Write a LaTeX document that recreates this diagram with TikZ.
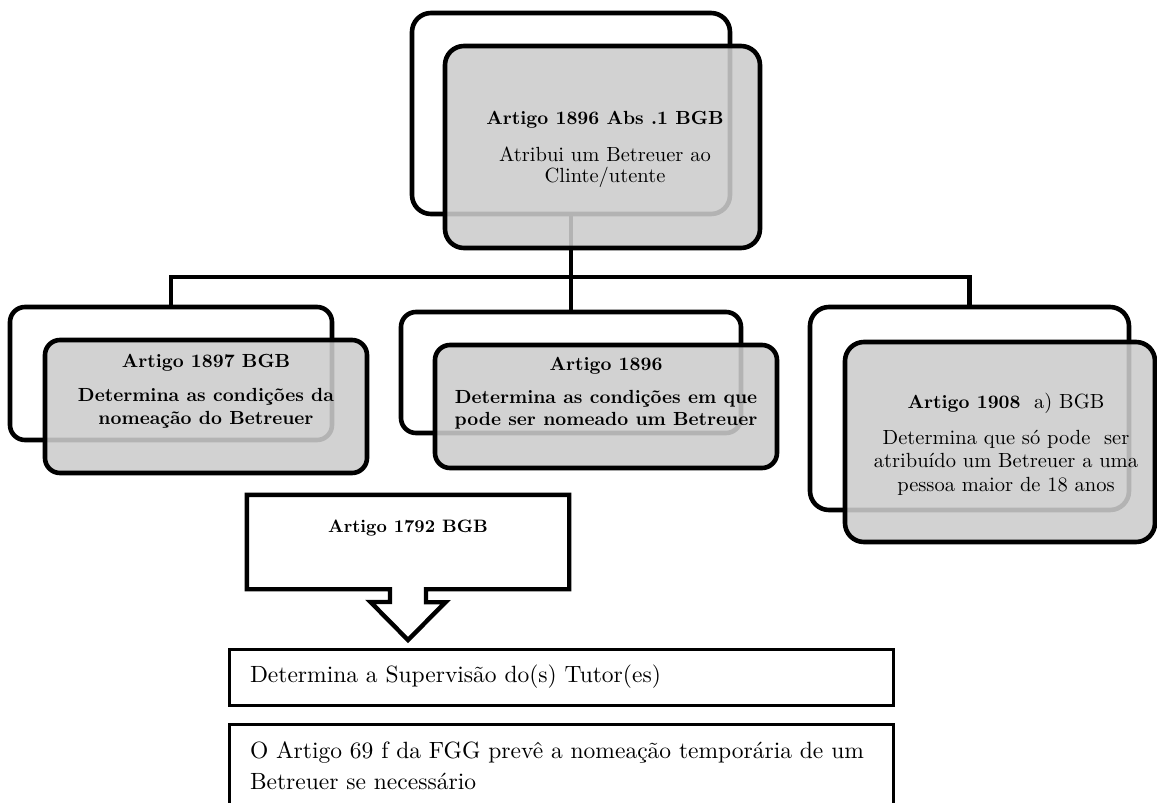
\documentclass[tikz,border=0pt]{standalone}
\usepackage{amsmath}
\usepackage{fontspec}
\setmainfont{lmroman10-regular.otf}[BoldFont=lmroman10-bold.otf]
\usepackage{tikz}
\definecolor{boxgray}{gray}{0.80}
\tikzset{
  backbox/.style={draw, line width=4.6pt, rounded corners=#1, inner sep=0pt},
  backbox/.default=15pt,
  frontbox/.style={draw, line width=4.6pt, rounded corners=#1, inner sep=0pt, fill=boxgray, fill opacity=0.88},
  frontbox/.default=15pt,
  link/.style={line width=4.8pt},
  callbox/.style={line width=4.4pt, line join=miter},
  plainbox/.style={draw, line width=3pt, inner sep=0pt},
}

\begin{document}
\begin{tikzpicture}[x=1pt,y=-1pt]
\useasboundingbox (0,0) rectangle (1157,803);

\node[backbox=19pt, minimum width=318, minimum height=201] (topback) at (571,113.5) {};
\node[backbox, minimum width=322, minimum height=133] (leftback) at (171,373.5) {};
\node[backbox, minimum width=340, minimum height=121] (midback) at (571,372.5) {};
\node[backbox=19pt, minimum width=319, minimum height=203] (rightback) at (969.5,408.5) {};
\coordinate (hub) at (571,277);

\draw[link] (topback.south) -- (hub);
\draw[link] (leftback.north) |- (hub) -| (rightback.north);
\draw[link] (hub) -- (midback.north);

\node[frontbox=19pt, minimum width=315, minimum height=202] (topfront) at (602.5,147) {};
\node[frontbox, minimum width=322, minimum height=133] (leftfront) at (206,406.5) {};
\node[frontbox, minimum width=342, minimum height=123] (midfront) at (606,406.5) {};
\node[frontbox=19pt, minimum width=310, minimum height=200] (rightfront) at (1000,442) {};

\node[align=center, font=\fontsize{20.5}{21}\selectfont] (toptxt) at (605,149.5)
  {{\bfseries\fontsize{19}{21}\selectfont Artigo 1896 Abs .1 BGB}\\[16pt]Atribui um Betreuer ao\\Clinte/utente};
\node[align=center, font=\fontsize{19}{23}\selectfont\bfseries] (lefttxt) at (206,391.5)
  {Artigo 1897 BGB\\[11pt]Determina as condições da\\nomeação do Betreuer};
\node[align=center, font=\fontsize{19}{22.5}\selectfont\bfseries] (midtxt) at (606,393)
  {Artigo 1896\\[10.5pt]Determina as condições em que\\pode ser nomeado um Betreuer};
\node[align=center, font=\fontsize{20.5}{23.5}\selectfont] (righttxt) at (1006,444)
  {{\bfseries\fontsize{19}{23.5}\selectfont Artigo 1908}~ a) BGB\\[12.5pt]Determina que só pode~ ser\\atribuído um Betreuer a uma\\pessoa maior de 18 anos};

\node[minimum width=322, minimum height=94, inner sep=0pt] (art1792) at (408,542) {};
\coordinate (tip1792) at (408,640);
\draw[callbox] ([xshift=-18pt]art1792.south) -- (art1792.south west) -- (art1792.north west)
  -- (art1792.north east) -- (art1792.south east) -- ([xshift=18pt]art1792.south)
  -- ++(0,13) -- ++(19.5,0) -- (tip1792) -- ++(-37.5,-38) -- ++(19.5,0) -- cycle;
\node[font=\fontsize{18}{22}\selectfont\bfseries] (txt1792) at (408,528.5) {Artigo 1792 BGB};

\node[plainbox, minimum width=664, minimum height=56, text width=622, align=left,
  font=\fontsize{23.5}{28}\selectfont] (superv) at (561,677) {Determina a Supervisão do(s) Tutor(es)};
\node[plainbox, minimum width=664, minimum height=84, text width=622, align=left,
  font=\fontsize{23.5}{31}\selectfont] (fgg) at (561,766)
  {O Artigo 69 f da FGG prevê a nomeação temporária de um\\Betreuer se necessário};
\end{tikzpicture}
\end{document}
